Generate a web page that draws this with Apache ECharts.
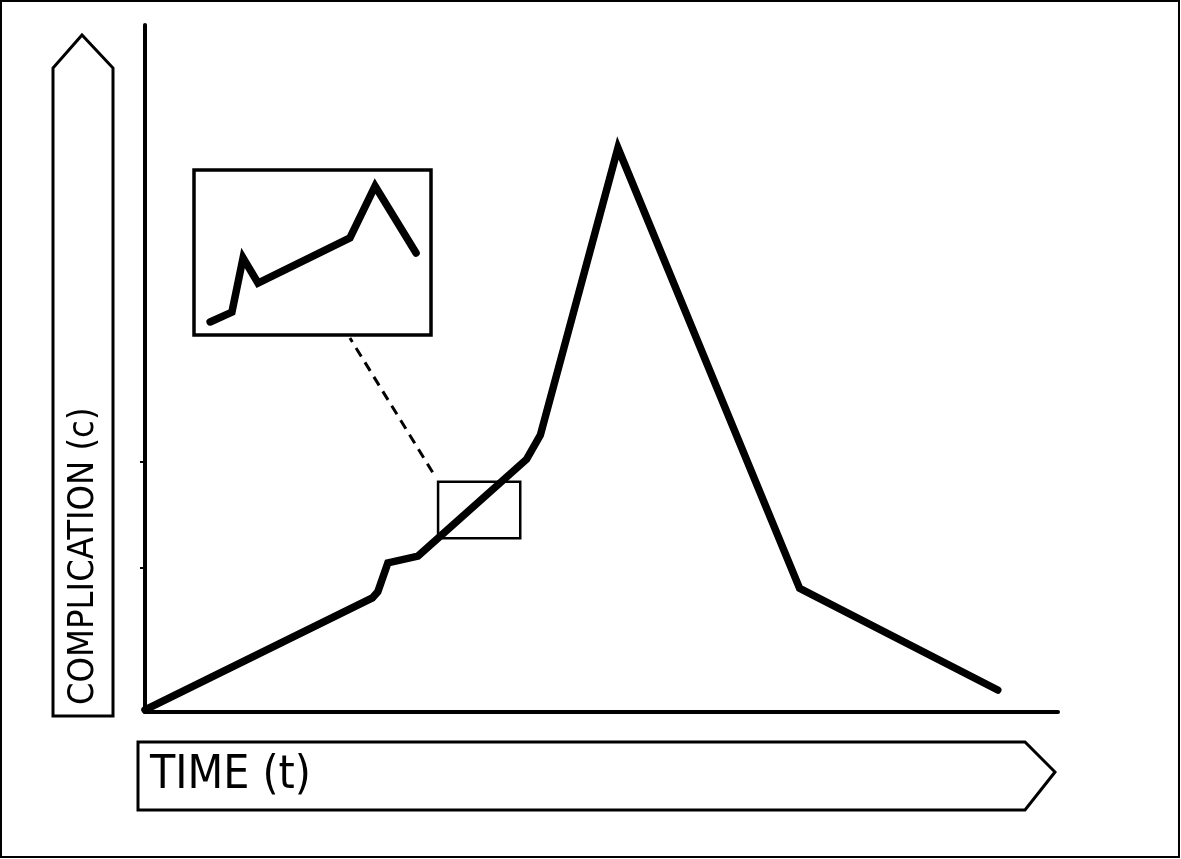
<!DOCTYPE html>
<html>
<head>
<meta charset="utf-8">
<script src="https://cdn.jsdelivr.net/npm/echarts@6/dist/echarts.min.js"></script>
<style>
html,body{margin:0;padding:0;background:#fff;}
#chart{width:1181px;height:859px;}
</style>
</head>
<body>
<div id="chart"></div>
<script>
// Main curve: time (t) vs complication (c)
var mainT = [0, 24.9, 25.5, 26.6, 29.9, 41.8, 43.3, 51.8, 71.7, 93.4];
var mainC = [0.3, 16.6, 17.5, 21.7, 22.7, 36.8, 40.3, 82.1, 18.0, 3.2];
// Zoomed inset curve
var insetX = [6.8, 16.0, 20.7, 27.0, 65.8, 76.4, 93.7];
var insetY = [7.9, 13.9, 46.7, 31.5, 58.8, 90.3, 49.7];
// Highlighted zoom window on the main curve
var zoomT = [32.1, 41.1];
var zoomC = [25.3, 33.5];
// Custom y tick positions
var yTicks = [21.0, 36.4];
// Labels
var xLabel = 'TIME (t)';
var yLabel = 'COMPLICATION (c)';

var chart = echarts.init(document.getElementById('chart'));
var font = '"Liberation Sans Narrow","DejaVu Sans Condensed","Noto Sans",sans-serif';

var option = {
  backgroundColor: '#fff',
  animation: false,
  grid: [
    {left: 145, top: 25, right: 123, bottom: 147},
    {left: 194, top: 170, width: 237, height: 165, show: true,
     borderColor: '#000', borderWidth: 3.5, backgroundColor: '#fff', z: 5}
  ],
  xAxis: [
    {gridIndex: 0, type: 'value', min: 0, max: 100,
     axisLine: {show: true, lineStyle: {color: '#000', width: 4}},
     axisTick: {show: false}, axisLabel: {show: false}, splitLine: {show: false}},
    {gridIndex: 1, type: 'value', min: 0, max: 100, show: false}
  ],
  yAxis: [
    {gridIndex: 0, type: 'value', min: 0, max: 100,
     axisLine: {show: true, lineStyle: {color: '#000', width: 4}},
     axisTick: {show: true, length: 5, lineStyle: {color: '#000', width: 2}, customValues: yTicks},
     axisLabel: {show: false}, splitLine: {show: false}},
    {gridIndex: 1, type: 'value', min: 0, max: 100, show: false}
  ],
  series: [
    {
      type: 'line', xAxisIndex: 0, yAxisIndex: 0,
      data: mainT.map(function (t, i) { return [t, mainC[i]]; }),
      showSymbol: false, symbol: 'none',
      lineStyle: {color: '#000', width: 7.5, join: 'miter', cap: 'round'},
      markArea: {
        silent: true,
        itemStyle: {color: 'rgba(0,0,0,0)', borderColor: '#000', borderWidth: 2.5},
        data: [[{coord: [zoomT[0], zoomC[1]]}, {coord: [zoomT[1], zoomC[0]]}]]
      },
      z: 3
    },
    {
      type: 'line', xAxisIndex: 1, yAxisIndex: 1,
      data: insetX.map(function (x, i) { return [x, insetY[i]]; }),
      showSymbol: false, symbol: 'none',
      lineStyle: {color: '#000', width: 7.5, join: 'miter', cap: 'round'},
      z: 6
    }
  ]
};
chart.setOption(option);

var p1 = chart.convertToPixel({gridIndex: 0}, [31.5, 34.9]);
var p2 = chart.convertToPixel({gridIndex: 1}, [65.8, 0]);

chart.setOption({
  graphic: [
    {type: 'rect', shape: {x: 1, y: 1, width: 1178, height: 856},
     style: {fill: 'none', stroke: '#000', lineWidth: 2}, silent: true},
    {type: 'line', shape: {x1: p1[0], y1: p1[1], x2: p2[0], y2: p2[1] + 3},
     style: {stroke: '#000', lineWidth: 3, lineDash: [10, 7]}, silent: true},
    {type: 'polygon', shape: {points: [[53, 716], [53, 68], [82, 35], [113, 68], [113, 716]]},
     style: {fill: 'none', stroke: '#000', lineWidth: 3}, silent: true},
    {type: 'polygon', shape: {points: [[138, 742], [1025, 742], [1055, 772], [1025, 810], [138, 810]]},
     style: {fill: 'none', stroke: '#000', lineWidth: 3}, silent: true},
    {type: 'text', x: 84, y: 705, rotation: Math.PI / 2,
     style: {text: yLabel, font: '36px ' + font, fill: '#000', textAlign: 'left', textVerticalAlign: 'middle'}},
    {type: 'text', x: 150, y: 776,
     style: {text: xLabel, font: '46px ' + font, fill: '#000', textAlign: 'left', textVerticalAlign: 'middle'}}
  ]
});
</script>
</body>
</html>
